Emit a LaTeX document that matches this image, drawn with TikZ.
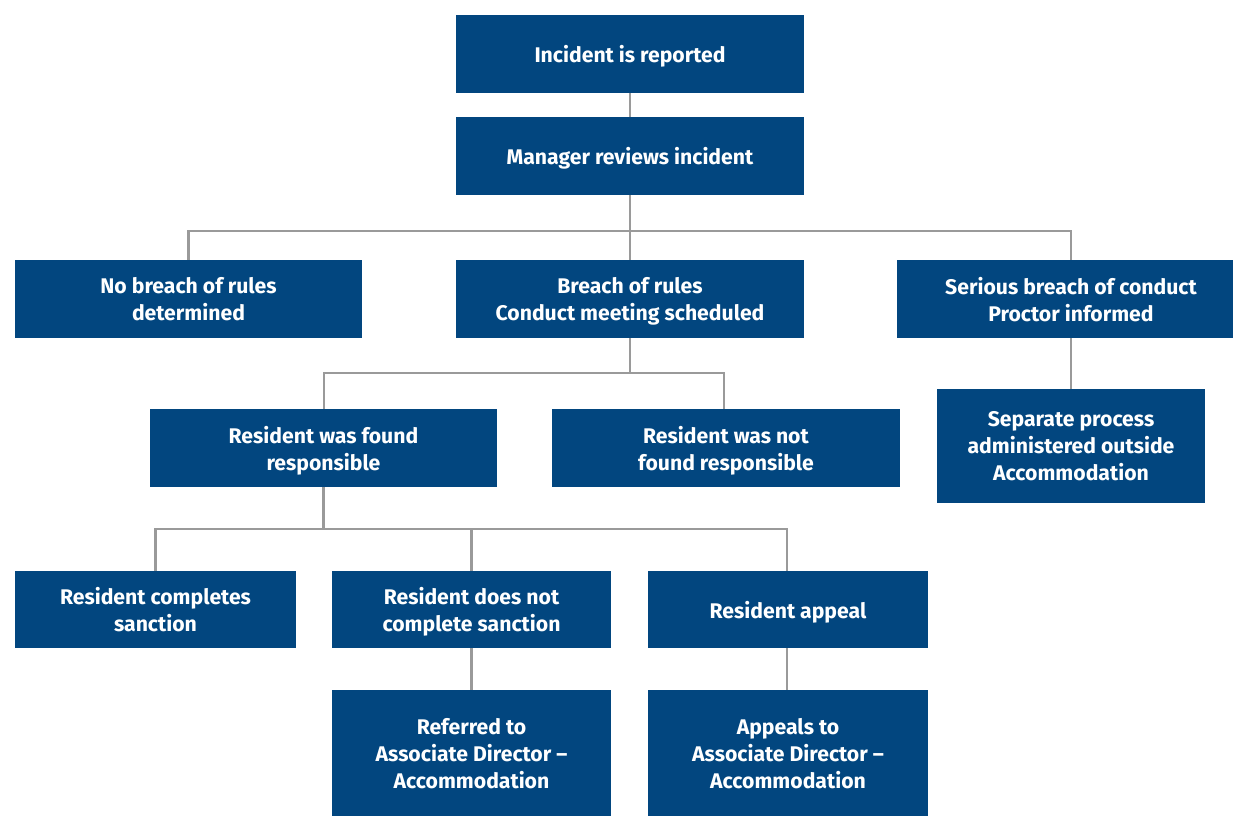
\documentclass[tikz,border=0pt]{standalone}
\usepackage{fontspec}
\setmainfont{Fira Sans}
\begin{document}
\begin{tikzpicture}[x=1pt,y=-1pt,
  box/.style={rectangle, fill=boxblue, text=white, align=center, inner sep=0pt, text depth=0pt,
    font=\fontsize{21.2}{27}\selectfont\bfseries},
  conn/.style={draw=linegray, line width=2.4pt}]
\definecolor{boxblue}{HTML}{02467F}
\definecolor{linegray}{HTML}{9A9A9A}
\useasboundingbox (0,0) rectangle (1233,817);
\fill[white] (0,0) rectangle (1233,817);
\coordinate (busA) at (0,231);
\coordinate (busB) at (0,373);
\coordinate (busC) at (0,529);
\node[box, minimum width=348pt, minimum height=78pt] (incident) at (630,54) {Incident is reported};
\node[box, minimum width=348pt, minimum height=78pt] (manager) at (630,156) {Manager reviews incident};
\node[box, minimum width=347pt, minimum height=78pt] (nobreach) at (188.5,299) {No breach of rules\\determined};
\node[box, minimum width=348pt, minimum height=78pt] (breach) at (630,299) {Breach of rules\\Conduct meeting scheduled};
\node[box, minimum width=348pt, minimum height=78pt] (serious) at (1071,299) {Serious breach of conduct\\Proctor informed};
\node[box, minimum width=347pt, minimum height=78pt] (found) at (323.5,448) {Resident was found\\responsible};
\node[box, minimum width=348pt, minimum height=78pt] (notfound) at (726,448) {Resident was not\\found responsible};
\node[box, minimum width=268pt, minimum height=114pt] (separate) at (1071,446) {Separate process\\administered outside\\Accommodation};
\node[box, minimum width=281pt, minimum height=77pt] (completes) at (155.5,609.5) {Resident completes\\sanction};
\node[box, minimum width=279pt, minimum height=77pt] (notcomplete) at (471.5,609.5) {Resident does not\\complete sanction};
\node[box, minimum width=280pt, minimum height=77pt] (appeal) at (788,609.5) {Resident appeal};
\node[box, minimum width=279pt, minimum height=126pt] (referred) at (471.5,753) {Referred to\\Associate Director –\\Accommodation};
\node[box, minimum width=280pt, minimum height=126pt] (appealsto) at (788,753) {Appeals to\\Associate Director –\\Accommodation};
\draw[conn] (incident.south) -- (manager.north);
\draw[conn] (manager.south) -- (breach.north);
\draw[conn] (nobreach.north) -- (nobreach.north |- busA) -- (serious.north |- busA) -- (serious.north);
\draw[conn] (breach.south) -- (breach.south |- busB);
\draw[conn] (found.north -| 324,0) -- (324,0 |- busB) -- (724,0 |- busB) -- (found.north -| 724,0);
\draw[conn] (serious.south) -- (separate.north);
\draw[conn] (found.south) -- (found.south |- busC);
\draw[conn] (completes.north) -- (completes.north |- busC) -- (787,0 |- busC) -- (appeal.north -| 787,0);
\draw[conn] (notcomplete.north) -- (notcomplete.north |- busC);
\draw[conn] (notcomplete.south) -- (referred.north);
\draw[conn] (appeal.south -| 787,0) -- (appealsto.north -| 787,0);
\end{tikzpicture}
\end{document}
